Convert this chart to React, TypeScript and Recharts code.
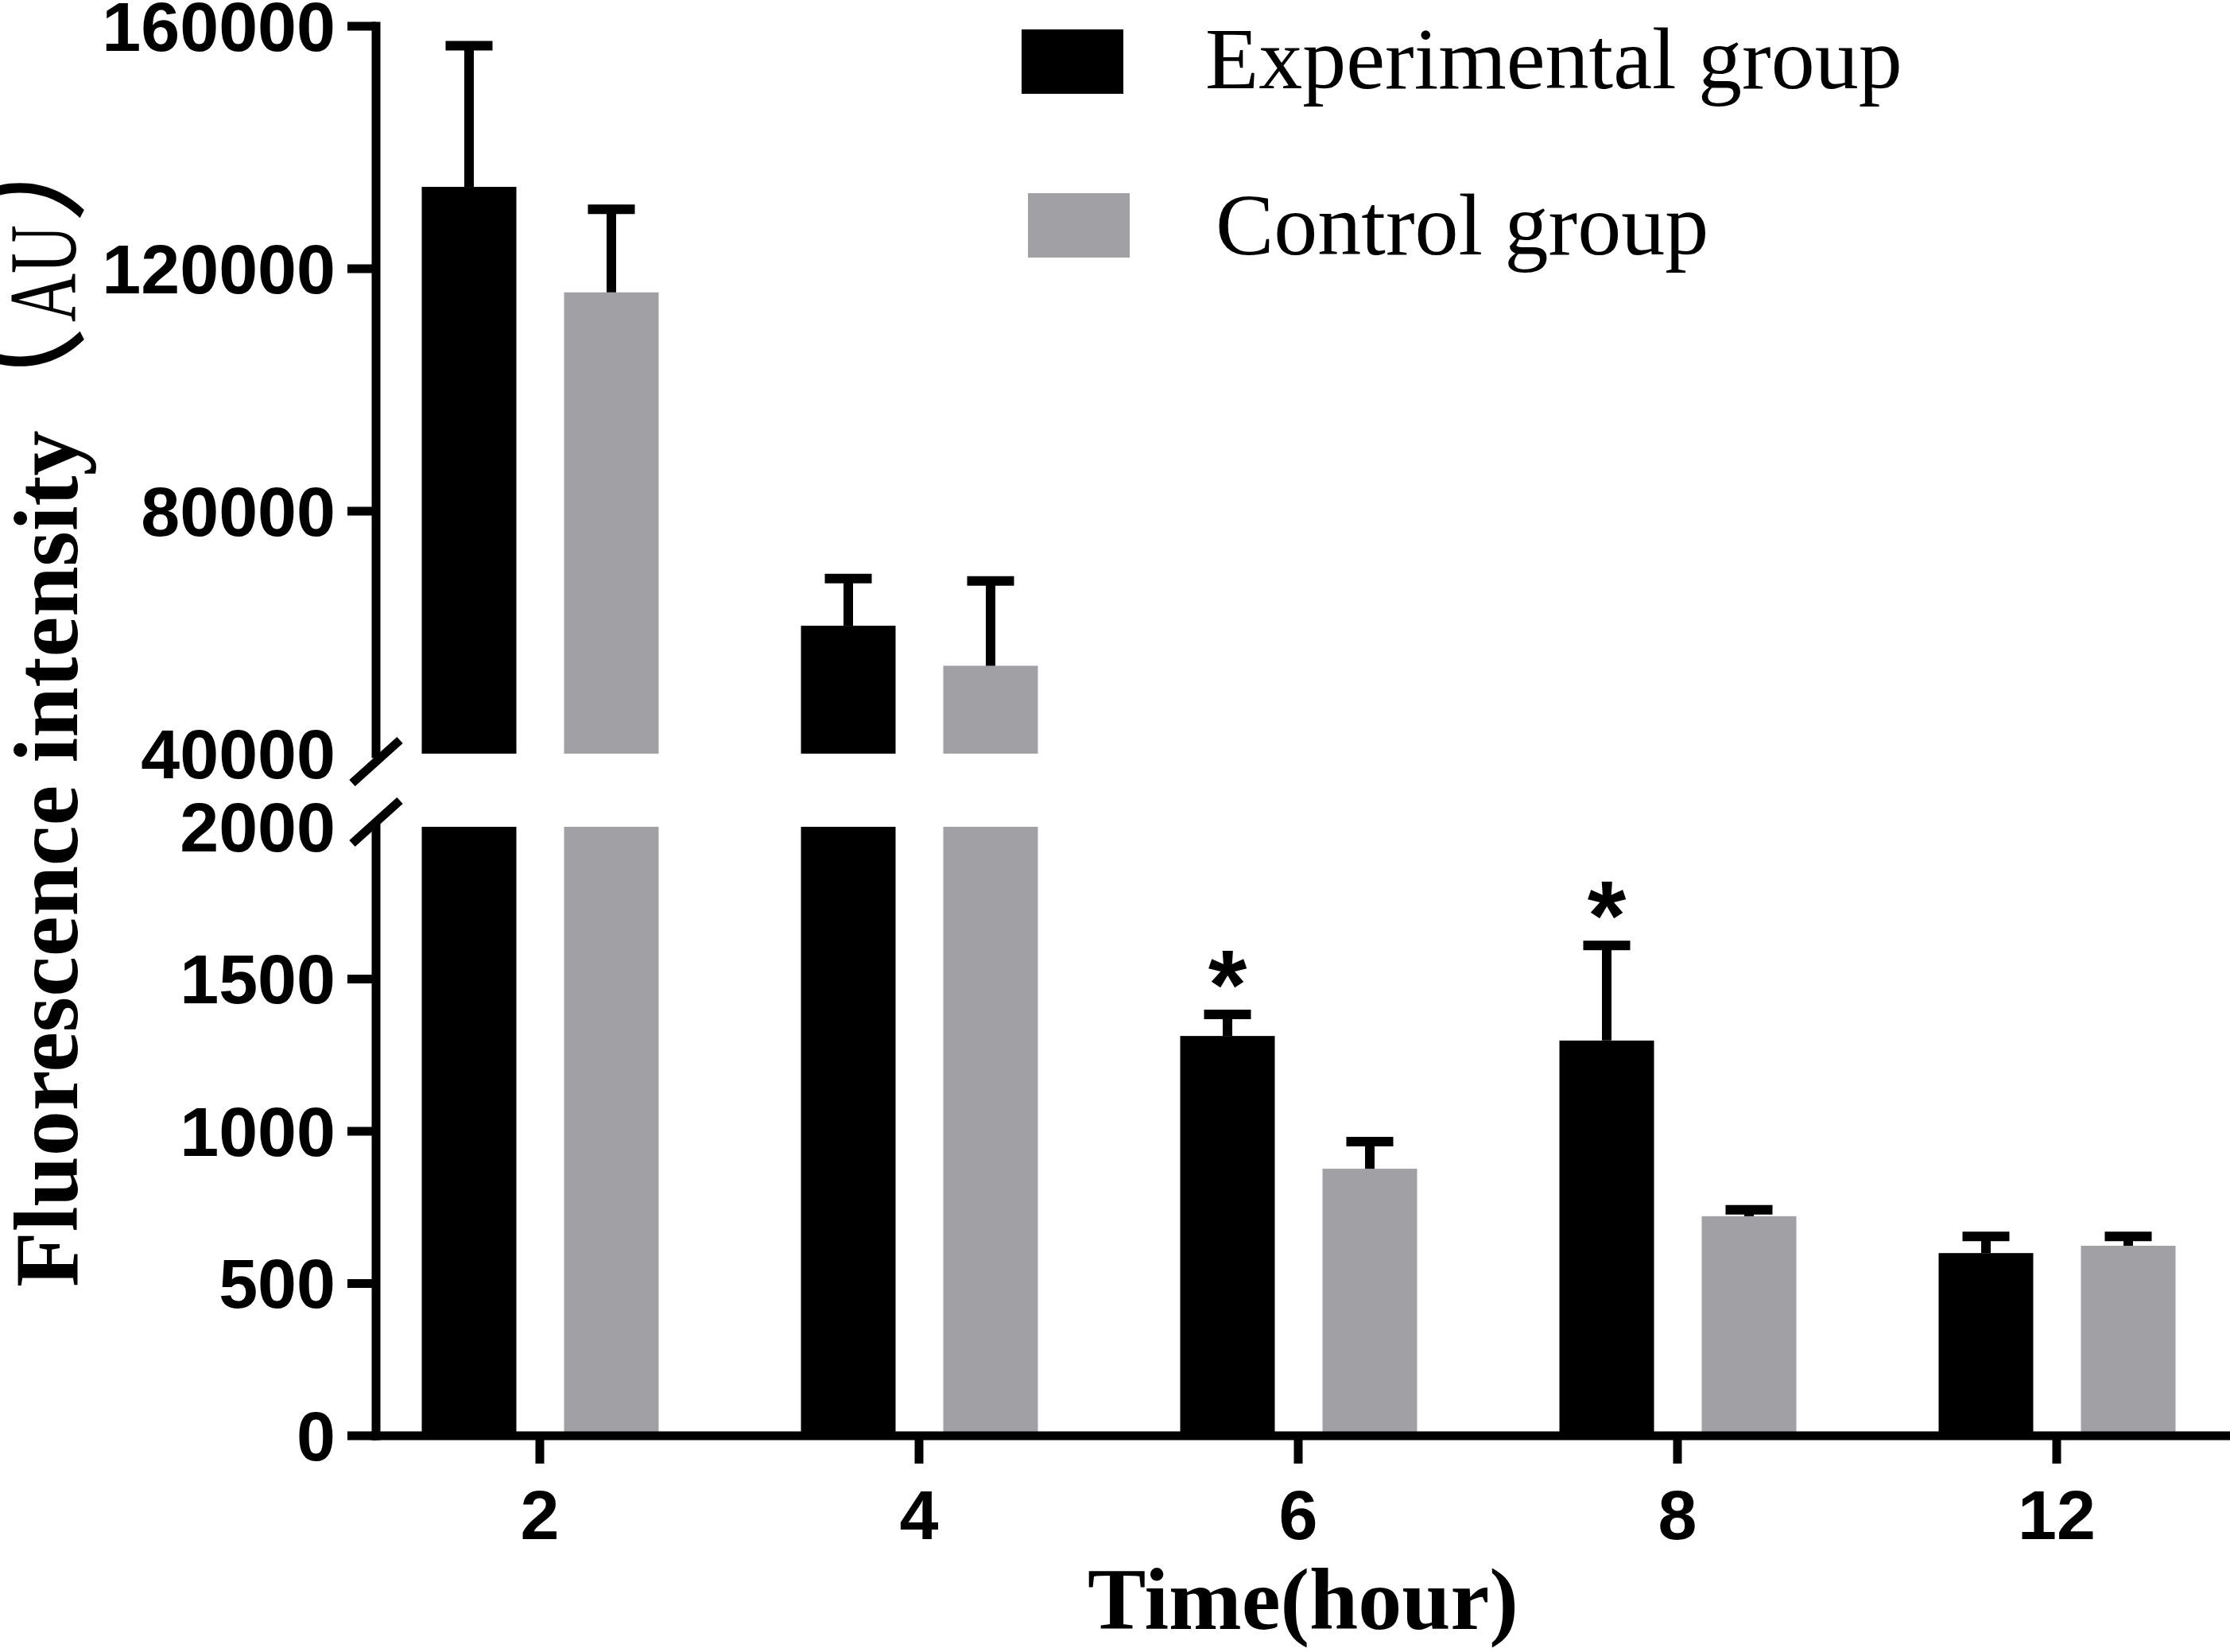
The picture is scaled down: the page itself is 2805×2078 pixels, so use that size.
import React from 'react';
import { BarChart, Bar, XAxis, YAxis, Legend } from 'recharts';

// ---------- data ----------
const categories = ['2', '4', '6', '8', '12'];
const experimentalMean = [133500, 61100, 1313, 1298, 600];
const experimentalSD = [23300, 7800, 71, 312, 55];
const controlMean = [116100, 54500, 877, 721, 624];
const controlSD = [13700, 14000, 89, 21, 31];
const significant = [false, false, true, true, false];
const upperTicks = [40000, 80000, 120000, 160000];
const lowerTicks = [0, 500, 1000, 1500, 2000];
const seriesNames = ['Experimental group', 'Control group'];

const data = categories.map((c, i) => ({
  time: c,
  exp: experimentalMean[i],
  expSD: experimentalSD[i],
  ctrl: controlMean[i],
  ctrlSD: controlSD[i],
  sig: significant[i],
}));

// ---------- layout ----------
const W = 2805;
const H = 2078;
const AXIS_X = 473;
const UPPER_TOP = 33;
const UPPER_BOTTOM = 948;
const LOWER_TOP = 1040;
const LOWER_BOTTOM = 1806;
const XPAD = { left: -32.5, right: -20.5 };
const STROKE = 11;
const BLACK = '#000000';
const GRAY = '#A1A1A5';
const SANS = 'Liberation Sans, Arial, sans-serif';
const SERIF = 'Liberation Serif, Times New Roman, serif';

const makeShape = (
  meanKey: string,
  sdKey: string,
  lo: number,
  hi: number,
  base: number,
  withSig: boolean
) => (props: any) => {
  const { x, y, width, height, fill, payload } = props;
  let ry = y;
  let rh = height;
  if (rh < 0) {
    ry = y + rh;
    rh = -rh;
  }
  const v = payload[meanKey];
  const parts: any[] = [<rect key="r" x={x} y={ry} width={width} height={rh} fill={fill} />];
  if (v >= lo && v <= hi && height > 0) {
    const k = height / (v - base);
    const cx = x + width / 2;
    const top = y - payload[sdKey] * k;
    parts.push(
      <line key="s" x1={cx} x2={cx} y1={y} y2={top} stroke={BLACK} strokeWidth={12} />
    );
    parts.push(
      <line key="c" x1={cx - 29.5} x2={cx + 29.5} y1={top} y2={top} stroke={BLACK} strokeWidth={12} />
    );
    if (withSig && payload.sig) {
      parts.push(
        <text
          key="a"
          x={cx}
          y={top + 6}
          textAnchor="middle"
          fontFamily={SANS}
          fontWeight="bold"
          fontSize={125}
          fill={BLACK}
        >
          *
        </text>
      );
    }
  }
  return <g>{parts}</g>;
};

const upperExpShape = makeShape('exp', 'expSD', 40000, 160000, 40000, false);
const upperCtrlShape = makeShape('ctrl', 'ctrlSD', 40000, 160000, 40000, false);
const lowerExpShape = makeShape('exp', 'expSD', 0, 2000, 0, true);
const lowerCtrlShape = makeShape('ctrl', 'ctrlSD', 0, 2000, 0, false);

const makeYTick = (breakValue: number, slashDy: number) => (props: any) => {
  const { y, payload } = props;
  const isBreak = payload.value === breakValue;
  return (
    <g>
      {isBreak ? (
        <line
          x1={AXIS_X - 30}
          y1={y + slashDy + 27}
          x2={AXIS_X + 30}
          y2={y + slashDy - 27}
          stroke={BLACK}
          strokeWidth={STROKE}
        />
      ) : (
        <line x1={AXIS_X - 36} x2={AXIS_X} y1={y} y2={y} stroke={BLACK} strokeWidth={STROKE} />
      )}
      <text
        x={AXIS_X - 51}
        y={y}
        textAnchor="end"
        dominantBaseline="central"
        fontFamily={SANS}
        fontWeight="bold"
        fontSize={88}
        fill={BLACK}
      >
        {payload.value}
      </text>
    </g>
  );
};

const upperTick = makeYTick(40000, 10);
const lowerTick = makeYTick(2000, -6);

const legendSwatch = [
  { x: 1285, y: 37, tx: 1516, ty: 111 },
  { x: 1293, y: 243, tx: 1529, ty: 320 },
];

const renderLegend = (props: any) => {
  const payload = [...(props.payload || [])].sort(
    (a: any, b: any) => seriesNames.indexOf(a.value) - seriesNames.indexOf(b.value)
  );
  return (
    <svg width={W} height={400} style={{ display: 'block' }}>
      {payload.map((entry: any, i: number) => {
        const p = legendSwatch[i] || legendSwatch[0];
        return (
          <g key={i}>
            <rect x={p.x} y={p.y} width={128} height={81} fill={entry.color} />
            <text x={p.tx} y={p.ty} fontFamily={SERIF} fontSize={110} fill={BLACK}>
              {entry.value}
            </text>
          </g>
        );
      })}
    </svg>
  );
};

const YLabel = () => (
  <g transform={`translate(97,1619) rotate(-90)`}>
    <text x={0} y={0} fontFamily={SERIF} fontWeight="bold" fontSize={114} fill={BLACK}>
      Fluorescence intensity
    </text>
    <text x={1040} y={-7} fontFamily="Noto Sans CJK SC" fontSize={170} fill={BLACK}>
      （
    </text>
    <text
      x={1214}
      y={-2}
      fontFamily={SERIF}
      fontSize={120}
      fill={BLACK}
      textLength={122}
      lengthAdjust="spacingAndGlyphs"
    >
      AU
    </text>
    <text x={1337} y={-7} fontFamily="Noto Sans CJK SC" fontSize={170} fill={BLACK}>
      ）
    </text>
  </g>
);

const XLabel = (props: any) => {
  const vb = props.viewBox || { x: AXIS_X, width: W - AXIS_X };
  return (
    <text
      x={vb.x + vb.width / 2}
      y={2049}
      textAnchor="middle"
      fontFamily={SERIF}
      fontWeight="bold"
      fontSize={110}
      fill={BLACK}
    >
      Time(hour)
    </text>
  );
};

const layerStyle: React.CSSProperties = { position: 'absolute', left: 0, top: 0 };

export default function App() {
  return (
    <div
      style={{
        position: 'absolute',
        left: 0,
        top: 0,
        width: W,
        height: H,
        background: '#ffffff',
        fontFamily: SANS,
      }}
    >
      <div style={layerStyle}>
        <BarChart
          width={W}
          height={H}
          data={data}
          margin={{ top: UPPER_TOP, right: 0, bottom: H - UPPER_BOTTOM, left: 0 }}
          barSize={119}
          barGap={60}
        >
          <XAxis dataKey="time" hide padding={XPAD} />
          <YAxis
            type="number"
            width={AXIS_X}
            domain={[40000, 160000]}
            ticks={upperTicks}
            interval={0}
            allowDataOverflow
            tick={upperTick}
            tickLine={false}
            stroke={BLACK}
            axisLine={{ stroke: BLACK, strokeWidth: STROKE, strokeLinecap: 'square' }}
          />
          <Legend
            layout="vertical"
            align="center"
            verticalAlign="middle"
            content={renderLegend}
            wrapperStyle={{ position: 'absolute', left: 0, top: 0, width: W, height: 400 }}
          />
          <Bar
            dataKey="exp"
            name={seriesNames[0]}
            fill={BLACK}
            shape={upperExpShape}
            isAnimationActive={false}
          />
          <Bar
            dataKey="ctrl"
            name={seriesNames[1]}
            fill={GRAY}
            shape={upperCtrlShape}
            isAnimationActive={false}
          />
        </BarChart>
      </div>
      <div style={layerStyle}>
        <BarChart
          width={W}
          height={H}
          data={data}
          margin={{ top: LOWER_TOP, right: 0, bottom: 0, left: 0 }}
          barSize={119}
          barGap={60}
        >
          <XAxis
            dataKey="time"
            height={H - LOWER_BOTTOM}
            padding={XPAD}
            interval={0}
            stroke={BLACK}
            tickSize={35}
            tickMargin={33}
            axisLine={{ stroke: BLACK, strokeWidth: STROKE, strokeLinecap: 'square' }}
            tickLine={{ stroke: BLACK, strokeWidth: STROKE }}
            tick={{ fill: BLACK, fontSize: 88, fontWeight: 700, fontFamily: SANS }}
            label={{ content: (p: any) => <XLabel {...p} /> }}
          />
          <YAxis
            type="number"
            width={AXIS_X}
            domain={[0, 2000]}
            ticks={lowerTicks}
            interval={0}
            allowDataOverflow
            tick={lowerTick}
            tickLine={false}
            stroke={BLACK}
            axisLine={{ stroke: BLACK, strokeWidth: STROKE, strokeLinecap: 'square' }}
            label={{ content: () => <YLabel /> }}
          />
          <Bar
            dataKey="exp"
            name={seriesNames[0]}
            fill={BLACK}
            shape={lowerExpShape}
            isAnimationActive={false}
          />
          <Bar
            dataKey="ctrl"
            name={seriesNames[1]}
            fill={GRAY}
            shape={lowerCtrlShape}
            isAnimationActive={false}
          />
        </BarChart>
      </div>
    </div>
  );
}
